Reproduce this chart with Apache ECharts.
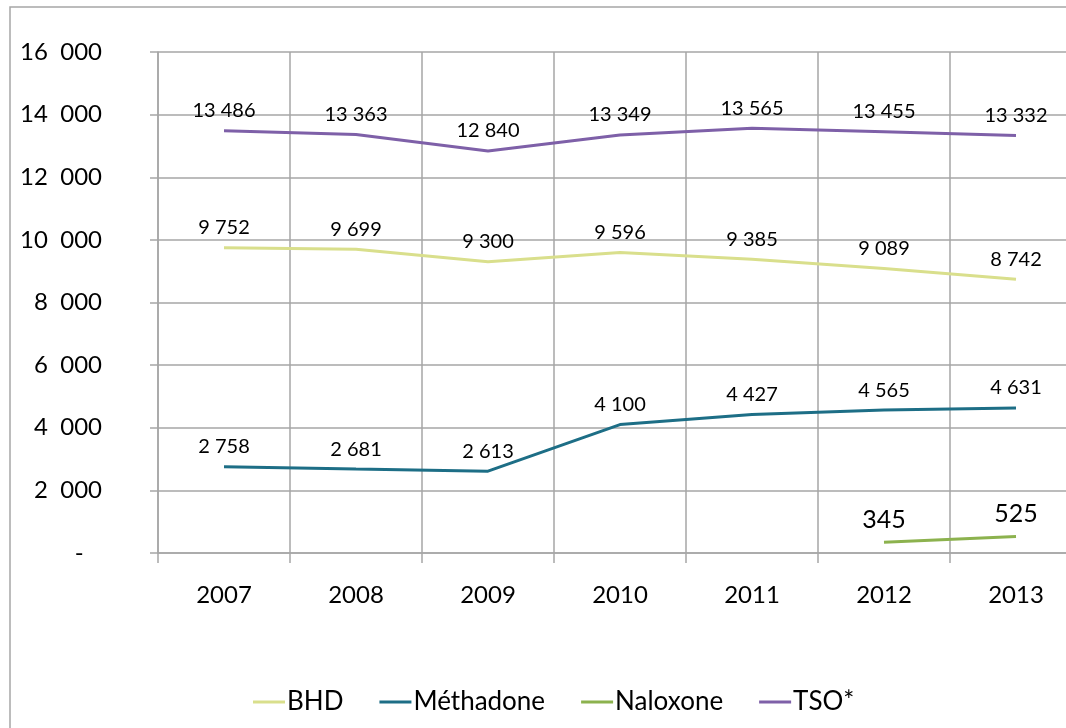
<!DOCTYPE html>
<html lang="fr">
<head>
    <meta charset="UTF-8">
    <title>TSO</title>
    <style type="text/css">
        body, html{width: 100%;height: 100%;margin:0;background:#fff;}
        #main {width: 1066px; height: 728px;}
    </style>
    <script src="https://cdn.jsdelivr.net/npm/echarts@6/dist/echarts.min.js"></script>
</head>
<body>
<div id="main"></div>
<script type="text/javascript">
    // données
    var annees = ['2007', '2008', '2009', '2010', '2011', '2012', '2013'];
    var bhd = [9752, 9699, 9300, 9596, 9385, 9089, 8742];
    var methadone = [2758, 2681, 2613, 4100, 4427, 4565, 4631];
    var naloxone = [null, null, null, null, null, 345, 525];
    var tso = [13486, 13363, 12840, 13349, 13565, 13455, 13332];

    var police = 'Lato';
    var gris = '#a6a6a6';

    function fmt(v, sep){
        return String(v).replace(/\B(?=(\d{3})+(?!\d))/g, sep || ' ');
    }

    function serie(nom, data, couleur, taille){
        return {
            name: nom,
            type: 'line',
            data: data,
            symbol: 'circle',
            symbolSize: 0,
            connectNulls: false,
            lineStyle: {color: couleur, width: 3},
            itemStyle: {color: couleur},
            label: {
                show: true,
                position: 'top',
                distance: 10,
                color: '#000',
                fontFamily: police,
                fontSize: taille,
                formatter: function(p){ return fmt(p.value); }
            }
        };
    }

    var myChart = echarts.init(document.getElementById('main'));
    var option = {
        backgroundColor: '#fff',
        animation: false,
        graphic: [{
            type: 'rect',
            shape: {x: 10, y: 7, width: 1200, height: 900},
            style: {fill: 'none', stroke: gris, lineWidth: 1.5},
            silent: true
        }],
        grid: {left: 158, width: 924, top: 52, bottom: 175, containLabel: false, outerBoundsMode: 'none'},
        legend: {
            bottom: 8,
            left: 248,
            itemWidth: 32,
            itemHeight: 3,
            itemGap: 36,
            icon: 'rect',
            textStyle: {fontFamily: police, fontSize: 26, color: '#000', padding: [0, 0, 0, -3]},
            data: ['BHD', 'Méthadone', 'Naloxone', 'TSO*']
        },
        xAxis: {
            type: 'category',
            data: annees,
            boundaryGap: true,
            axisLine: {lineStyle: {color: gris, width: 1.5}},
            axisTick: {show: true, length: 10, lineStyle: {color: gris, width: 1.5}},
            axisLabel: {margin: 30, fontFamily: police, fontSize: 24, color: '#000'},
            splitLine: {show: true, lineStyle: {color: gris, width: 1.5}}
        },
        yAxis: {
            type: 'value',
            min: 0,
            max: 16000,
            interval: 2000,
            axisLine: {show: true, lineStyle: {color: gris, width: 1.5}},
            axisTick: {show: true, length: 8, lineStyle: {color: gris, width: 1.5}},
            axisLabel: {
                margin: 56,
                fontFamily: police,
                fontSize: 24,
                color: '#000',
                formatter: function(v){ return v === 0 ? '-   ' : fmt(v, '  '); }
            },
            splitLine: {show: true, lineStyle: {color: gris, width: 1.5}}
        },
        series: [
            serie('BHD', bhd, '#d9df8c', 20),
            serie('Méthadone', methadone, '#1d6e86', 20),
            serie('Naloxone', naloxone, '#8cb24e', 25),
            serie('TSO*', tso, '#7e60a8', 20)
        ]
    };
    myChart.setOption(option);
</script>
</body>
</html>
